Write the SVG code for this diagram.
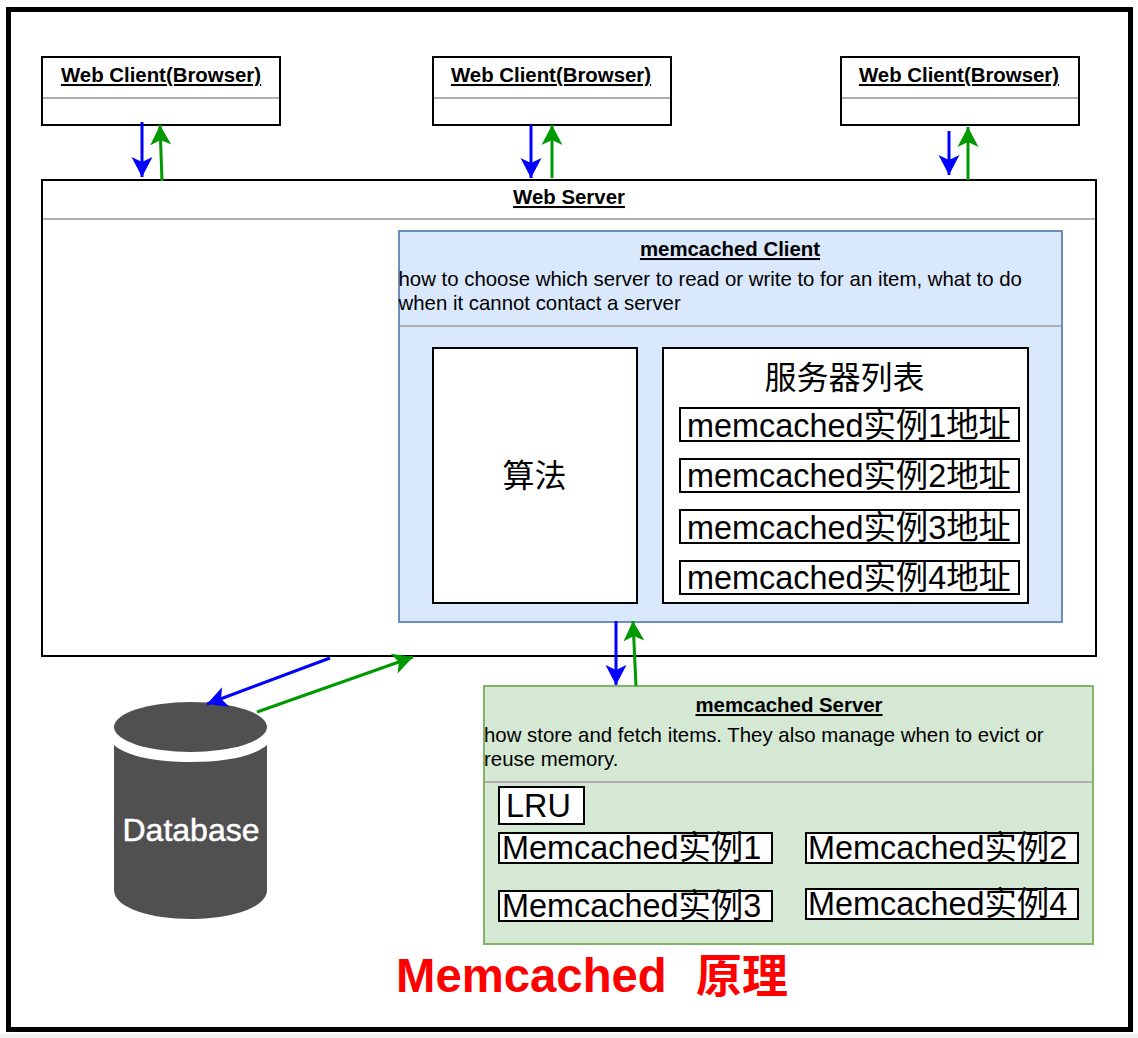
<svg xmlns="http://www.w3.org/2000/svg" width="1138" height="1038" viewBox="0 0 1138 1038">
<style>
text{font-family:"Liberation Sans","Noto Sans CJK SC",sans-serif;fill:#000}
.box{fill:#fff;stroke:#000;stroke-width:2}
.inner{fill:#fff;stroke:#000;stroke-width:2}
.div{stroke:#b0b0b0;stroke-width:2;fill:none}
.h{font-size:20.400px;font-weight:bold;text-decoration:underline;text-anchor:middle}
.d{font-size:20.400px}
.m{font-size:32.400px}
.c{text-anchor:middle}
.b{stroke:#0000ff;stroke-width:3;fill:none;marker-end:url(#mb)}
.g{stroke:#009900;stroke-width:3;fill:none;marker-end:url(#mg)}
</style>
<defs>
<marker id="mb" markerUnits="userSpaceOnUse" markerWidth="22" markerHeight="22" refX="20" refY="11" orient="auto" viewBox="0 0 22 22"><path d="M0 0.500L20 11L0 21.500L5 11Z" fill="#0000ff"/></marker>
<marker id="mg" markerUnits="userSpaceOnUse" markerWidth="22" markerHeight="22" refX="20" refY="11" orient="auto" viewBox="0 0 22 22"><path d="M0 0.500L20 11L0 21.500L5 11Z" fill="#009900"/></marker>
</defs>
<rect width="1138" height="1038" fill="#fff"/>
<rect y="1034" width="1138" height="4" fill="#f2f2f2"/>
<rect x="8.500" y="9.500" width="1122" height="1020" fill="#fff" stroke="#000" stroke-width="5"/>
<g id="client1"><rect class="box" x="42" y="57" width="238" height="68"/><line class="div" x1="43" y1="98" x2="279" y2="98"/><text class="h" x="161" y="82">Web Client(Browser)</text></g>
<g id="client2"><rect class="box" x="433" y="57" width="238" height="68"/><line class="div" x1="434" y1="98" x2="670" y2="98"/><text class="h" x="551" y="82">Web Client(Browser)</text></g>
<g id="client3"><rect class="box" x="841" y="57" width="238" height="68"/><line class="div" x1="842" y1="98" x2="1078" y2="98"/><text class="h" x="959" y="82">Web Client(Browser)</text></g>
<g id="webserver"><rect class="box" x="42" y="180" width="1054" height="476"/><line class="div" x1="43" y1="219" x2="1095" y2="219"/><text class="h" x="569" y="204">Web Server</text></g>
<g id="mc-client"><rect x="399" y="231" width="663" height="391" fill="#dae8fc" stroke="#6c8ebf" stroke-width="2"/><line class="div" x1="400" y1="326" x2="1061" y2="326"/><text class="h" x="730" y="256">memcached Client</text><text class="d" x="398.500" y="286">how to choose which server to read or write to for an item, what to do</text><text class="d" x="398.500" y="310">when it cannot contact a server</text></g>
<g id="algo"><rect class="inner" x="433" y="348" width="204" height="255"/><text class="c" x="534.500" y="487" font-size="32">算法</text></g>
<g id="serverlist"><rect class="inner" x="663" y="348" width="365" height="255"/><text class="c" x="844.500" y="389" font-size="32">服务器列表</text></g>
<g id="addr1"><rect class="inner" x="680" y="408" width="339" height="33"/><text class="m" x="687" y="437">memcached实例1地址</text></g>
<g id="addr2"><rect class="inner" x="680" y="459" width="339" height="33"/><text class="m" x="687" y="487">memcached实例2地址</text></g>
<g id="addr3"><rect class="inner" x="680" y="510" width="339" height="33"/><text class="m" x="687" y="539">memcached实例3地址</text></g>
<g id="addr4"><rect class="inner" x="680" y="561" width="339" height="33"/><text class="m" x="687" y="589">memcached实例4地址</text></g>
<g id="mc-server"><rect x="484" y="686" width="609" height="258" fill="#d5e8d4" stroke="#82b366" stroke-width="2"/><line class="div" x1="485" y1="782" x2="1092" y2="782"/><text class="h" x="789" y="712">memcached Server</text><text class="d" x="484" y="742">how store and fetch items. They also manage when to evict or</text><text class="d" x="484" y="766">reuse memory.</text></g>
<g id="lru"><rect class="inner" x="499" y="787" width="85" height="37"/><text class="m" x="506" y="817">LRU</text></g>
<g id="inst1"><rect class="inner" x="499" y="833" width="273" height="30"/><text class="m" x="502" y="859">Memcached实例1</text></g>
<g id="inst2"><rect class="inner" x="806" y="833" width="272" height="30"/><text class="m" x="808" y="859">Memcached实例2</text></g>
<g id="inst3"><rect class="inner" x="499" y="891" width="273" height="30"/><text class="m" x="502" y="917">Memcached实例3</text></g>
<g id="inst4"><rect class="inner" x="806" y="889" width="272" height="30"/><text class="m" x="808" y="915">Memcached实例4</text></g>
<g id="database"><ellipse cx="190.500" cy="727" rx="76.500" ry="25" fill="#505050"/><path d="M114 745C128 757 158 762 190.500 762C223 762 253 757 267 745V890C267 908 230 919 190.500 919C151 919 114 908 114 890Z" fill="#505050"/><text x="191" y="841" font-size="32" text-anchor="middle" stroke="#fff" stroke-width="0.500" style="fill:#fff">Database</text></g>
<g id="connectors">
<line class="b" x1="142" y1="122" x2="142" y2="177"/>
<line class="g" x1="162" y1="181" x2="160" y2="125"/>
<line class="b" x1="531" y1="125" x2="531" y2="178"/>
<line class="g" x1="552" y1="178" x2="552" y2="125"/>
<line class="b" x1="949" y1="131" x2="949" y2="175"/>
<line class="g" x1="968" y1="180" x2="968" y2="127"/>
<line class="b" x1="616" y1="621" x2="616" y2="685"/>
<line class="g" x1="636" y1="686" x2="633" y2="621"/>
<line class="b" x1="330" y1="658" x2="207" y2="704"/>
<line class="g" x1="257" y1="712" x2="413" y2="657"/>
</g>
<text id="title" x="396" y="992" font-size="47.300" font-weight="bold" style="fill:#ff0000">Memcached</text>
<text x="696" y="992" font-size="46" style="fill:#ff0000;font-weight:bold">原理</text>
</svg>
